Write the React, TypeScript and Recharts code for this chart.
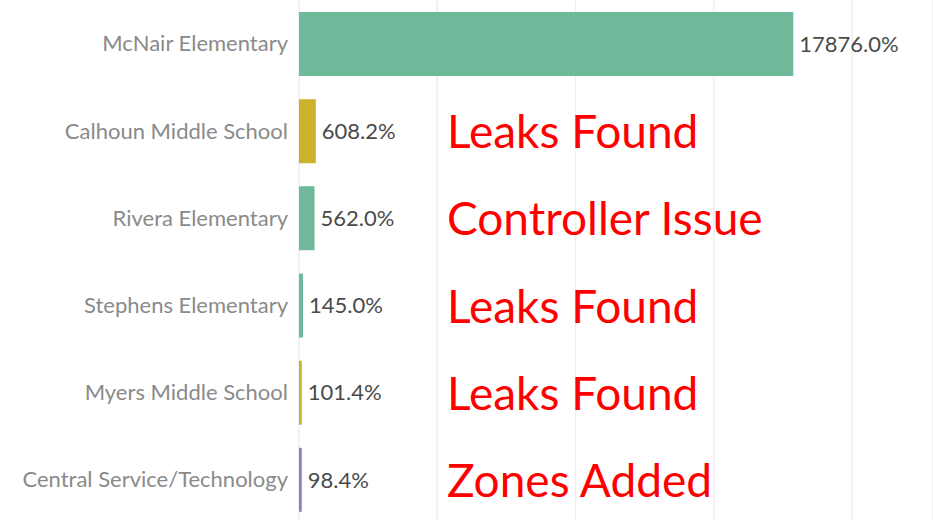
import { Bar, BarChart, CartesianGrid, Cell, LabelList, XAxis, YAxis } from 'recharts'

const schools = [
  'McNair Elementary',
  'Calhoun Middle School',
  'Rivera Elementary',
  'Stephens Elementary',
  'Myers Middle School',
  'Central Service/Technology',
]
const changePct = [17876.0, 608.2, 562.0, 145.0, 101.4, 98.4]
const notes = ['', 'Leaks Found', 'Controller Issue', 'Leaks Found', 'Leaks Found', 'Zones Added']
const barColors = ['#6fb899', '#ccb22b', '#6fb899', '#6fb899', '#ccb22b', '#8b7fc0']
const gridTicks = [0, 5000, 10000, 15000, 20000]

const rows = schools.map((name, i) => ({ name, pct: changePct[i], note: notes[i] }))

// red callouts sit in a fixed column to the right of the short bars
function NoteLabel(props: any) {
  const { y, height, value } = props
  if (!value) return null
  return (
    <text
      x={447}
      y={y + height / 2 + 17}
      fill="#ff0000"
      fontSize={46}
      fontFamily="Lato, 'Open Sans', sans-serif"
    >
      {value}
    </text>
  )
}

export default function App() {
  return (
    <div style={{ width: 933, height: 520, overflow: 'hidden', background: '#fff' }}>
      <style>{'body{margin:0}'}</style>
      <BarChart
        width={933}
        height={523}
        data={rows}
        layout="vertical"
        barSize={64}
        margin={{ top: 0, right: 0, bottom: 0, left: 0 }}
      >
        <CartesianGrid horizontal={false} stroke="#eeeeee" strokeWidth={1.5} />
        <XAxis type="number" hide domain={[0, 22930]} ticks={gridTicks} />
        <YAxis
          type="category"
          dataKey="name"
          width={299}
          axisLine={false}
          tickLine={false}
          tickMargin={5}
          tick={{ fill: '#8a8a8a', fontSize: 22, fontFamily: 'Lato, sans-serif' }}
        />
        <Bar dataKey="pct" isAnimationActive={false}>
          {rows.map((r, i) => (
            <Cell key={r.name} fill={barColors[i]} />
          ))}
          <LabelList
            dataKey="pct"
            position="right"
            offset={6}
            formatter={(v: any) => `${Number(v).toFixed(1)}%`}
            style={{ fill: '#4a4a4a', fontSize: 22, fontFamily: 'Lato, sans-serif' }}
          />
          <LabelList dataKey="note" content={<NoteLabel />} />
        </Bar>
      </BarChart>
    </div>
  )
}
